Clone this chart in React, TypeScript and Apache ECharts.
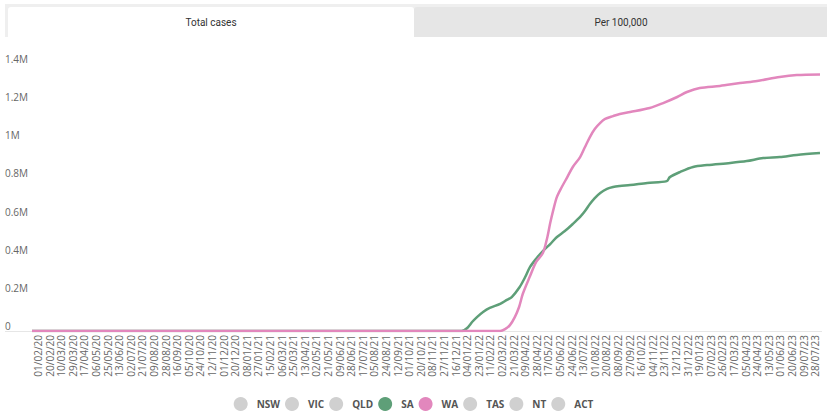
import React, { useEffect, useRef } from "react";
import * as echarts from "echarts";

// ---- data ----
const START_DATE = Date.UTC(2020, 0, 22);
const END_DATE = Date.UTC(2023, 7, 5);

const stateNames = ["NSW", "VIC", "QLD", "SA", "WA", "TAS", "NT", "ACT"];
const stateColors = ["#d0d0d0", "#d0d0d0", "#d0d0d0", "#5e9f78", "#e287bd", "#d0d0d0", "#d0d0d0", "#d0d0d0"];

const saCases: [string, number][] = [
  ["22/01/20", 0], ["26/12/21", 0], ["04/01/22", 16000], ["12/01/22", 47000], ["20/01/22", 73000],
  ["30/01/22", 100000], ["10/02/22", 121000], ["27/02/22", 142000], ["10/03/22", 163000],
  ["18/03/22", 178000], ["31/03/22", 231000], ["09/04/22", 283000], ["17/04/22", 336000],
  ["28/04/22", 383000], ["08/05/22", 419000], ["20/05/22", 456000], ["31/05/22", 493000],
  ["13/06/22", 524000], ["26/06/22", 561000], ["08/07/22", 598000], ["16/07/22", 629000],
  ["24/07/22", 666000], ["01/08/22", 697000], ["10/08/22", 724000], ["21/08/22", 745000],
  ["31/08/22", 755000], ["11/09/22", 760000], ["28/09/22", 765000], ["26/10/22", 776000],
  ["27/11/22", 786000], ["02/12/22", 807000], ["19/12/22", 834000], ["09/01/23", 860000],
  ["01/02/23", 870000], ["11/03/23", 881000], ["07/04/23", 891000], ["04/05/23", 907000],
  ["31/05/23", 912000], ["28/06/23", 923000], ["05/08/23", 933000],
];

const waCases: [string, number][] = [
  ["22/01/20", 0], ["27/02/22", 0], ["07/03/22", 10000], ["15/03/22", 31000], ["23/03/22", 73000],
  ["30/03/22", 126000], ["05/04/22", 194000], ["17/04/22", 288000], ["27/04/22", 362000],
  ["08/05/22", 409000], ["15/05/22", 488000], ["20/05/22", 566000], ["25/05/22", 634000],
  ["31/05/22", 703000], ["08/06/22", 755000], ["17/06/22", 807000], ["26/06/22", 860000],
  ["08/07/22", 912000], ["16/07/22", 965000], ["24/07/22", 1017000], ["01/08/22", 1059000],
  ["10/08/22", 1091000], ["18/08/22", 1112000], ["31/08/22", 1127000], ["11/09/22", 1138000],
  ["28/09/22", 1148000], ["30/10/22", 1169000], ["21/11/22", 1195000], ["14/12/22", 1227000],
  ["30/12/22", 1253000], ["20/01/23", 1274000], ["22/02/23", 1285000], ["27/03/23", 1300000],
  ["24/04/23", 1311000], ["31/05/23", 1332000], ["28/06/23", 1342000], ["05/08/23", 1345000],
];

const yTicks = [0, 200000, 400000, 600000, 800000, 1000000, 1200000, 1400000];
const tabLabels = ["Total cases", "Per 100,000"];

function fmt(t: number) {
  const d = new Date(t);
  const dd = String(d.getUTCDate()).padStart(2, "0");
  const mm = String(d.getUTCMonth() + 1).padStart(2, "0");
  const yy = String(d.getUTCFullYear() % 100).padStart(2, "0");
  return `${dd}/${mm}/${yy}`;
}

const dates: string[] = [];
for (let t = START_DATE; t <= END_DATE; t += 86400000) dates.push(fmt(t));
const firstLabelIndex = dates.indexOf("01/02/20");

export default function App() {
  const ref = useRef<HTMLDivElement>(null);
  useEffect(() => {
    const chart = echarts.init(ref.current!, null, { renderer: "svg" });
    const seriesData: Record<string, [string, number][]> = { SA: saCases, WA: waCases };
    const option: any = {
      animation: false,
      textStyle: { fontFamily: "Open Sans" },
      grid: { left: 32, right: 7, top: 64, bottom: 82 },
      xAxis: {
        type: "category",
        data: dates,
        boundaryGap: false,
        axisLine: { show: false },
        axisTick: { show: false },
        axisLabel: {
          rotate: 90,
          margin: 4,
          fontSize: 10,
          color: "#666",
          interval: (i: number) => i >= firstLabelIndex && (i - firstLabelIndex) % 19 === 0,
        },
        splitLine: { show: false },
      },
      yAxis: {
        type: "value",
        min: 0,
        max: yTicks[yTicks.length - 1],
        interval: 200000,
        axisLine: { show: false },
        axisTick: { show: false },
        splitLine: { show: false },
        axisLabel: {
          align: "left",
          verticalAlign: "bottom",
          lineHeight: 10,
          margin: 27,
          fontSize: 10,
          color: "#666",
          formatter: (v: number) => (v === 0 ? "0" : `${v / 1e6}M`),
        },
      },
      legend: {
        data: stateNames,
        top: 397,
        left: "center",
        padding: 0,
        icon: "circle",
        itemWidth: 22,
        itemHeight: 14,
        itemGap: 5,
        textStyle: { fontSize: 10, color: "#555", fontWeight: "bold", fontFamily: "Open Sans" },
      },
      graphic: [
        { type: "rect", z: -1, shape: { x: 5, y: 4, width: 830, height: 33 }, style: { fill: "#efefef" } },
        { type: "rect", z: 0, shape: { x: 8, y: 7, width: 406, height: 30, r: [3, 3, 0, 0] }, style: { fill: "#ffffff" } },
        { type: "rect", z: 0, shape: { x: 414, y: 7, width: 420, height: 30, r: [3, 3, 0, 0] }, style: { fill: "#e6e6e6" } },
        { type: "text", z: 1, x: 211, y: 22, style: { text: tabLabels[0], fontSize: 10, fill: "#333", align: "center", verticalAlign: "middle", fontFamily: "Roboto" } },
        { type: "text", z: 1, x: 621, y: 22, style: { text: tabLabels[1], fontSize: 10, fill: "#333", align: "center", verticalAlign: "middle", fontFamily: "Roboto" } },
        { type: "line", z: -1, shape: { x1: 5, y1: 331.5, x2: 822, y2: 331.5 }, style: { stroke: "#e6e6e6", lineWidth: 1 } },
      ],
      series: stateNames.map((name, i) => ({
        name,
        type: "line",
        data: seriesData[name] || [],
        color: stateColors[i],
        showSymbol: false,
        symbol: "circle",
        smooth: 0.3,
        lineStyle: { width: 2.5, color: stateColors[i] },
        itemStyle: { color: stateColors[i] },
      })),
    };
    chart.setOption(option);
    return () => chart.dispose();
  }, []);
  return (
    <div
      ref={ref}
      style={{ position: "fixed", left: 0, top: 0, width: 827, height: 413, background: "#fff" }}
    />
  );
}
